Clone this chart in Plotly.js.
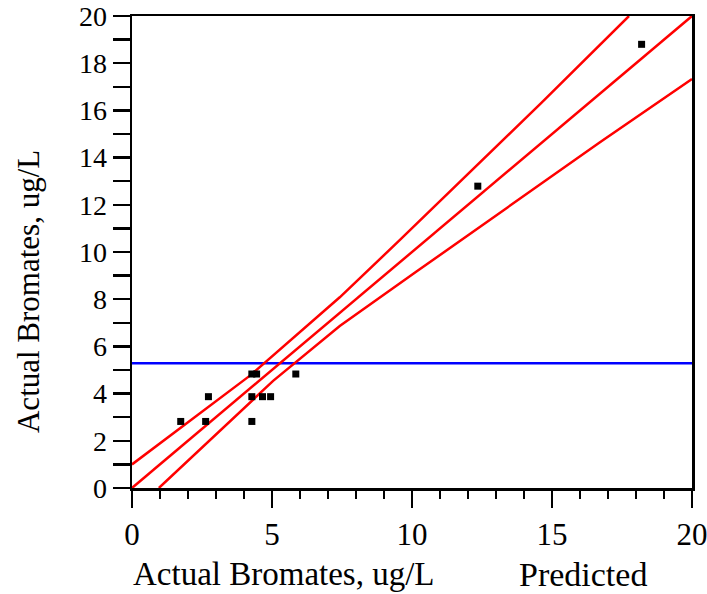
<!DOCTYPE html>
<html>
<head>
<meta charset="utf-8">
<script src="https://cdn.plot.ly/plotly-3.0.1.min.js"></script>
<style>html,body{margin:0;padding:0;background:#fff;}#chart{width:707px;height:594px;}</style>
</head>
<body>
<div id="chart"></div>
<script>
// Observed points (predicted vs actual)
const pointsX = [1.74, 2.63, 2.73, 4.28, 4.28, 4.28, 4.45, 4.66, 4.95, 5.85, 12.35, 18.2];
const pointsY = [2.82, 2.82, 3.87, 2.82, 3.87, 4.83, 4.83, 3.87, 3.87, 4.83, 12.79, 18.8];

// Fit line
const fitX = [0, 20];
const fitY = [0, 20];

// Upper confidence curve
const upperX = [0, 4.2, 7.42, 9.56, 14.62, 17.75];
const upperY = [1.0, 4.75, 8.08, 10.5, 16.32, 20];

// Lower confidence curve
const lowerX = [0.96, 5.04, 7.42, 10.16, 16.7, 20];
const lowerY = [0, 4.54, 6.86, 9.17, 14.64, 17.33];

// Horizontal mean line
const meanX = [0, 20];
const meanY = [5.29, 5.29];

// Tick labels
const xTickVals = [0, 5, 10, 15, 20];
const xTickText = ['0', '5', '10', '15', '20'];
const yTickVals = [0,1,2,3,4,5,6,7,8,9,10,11,12,13,14,15,16,17,18,19,20];
const yTickText = ['0','','2','','4','','6','','8','','10','','12','','14','','16','','18','','20'];

const xTitle = 'Actual Bromates, ug/L';
const xTitle2 = 'Predicted';
const yTitle = 'Actual Bromates, ug/L';

const red = '#ff0000';
const traces = [
  {x: meanX, y: meanY, mode: 'lines', line: {color: '#0000ff', width: 2.5}, hoverinfo: 'skip'},
  {x: upperX, y: upperY, mode: 'lines', line: {color: red, width: 2.5}},
  {x: fitX, y: fitY, mode: 'lines', line: {color: red, width: 2.5}},
  {x: lowerX, y: lowerY, mode: 'lines', line: {color: red, width: 2.5}},
  {x: pointsX, y: pointsY, mode: 'markers', marker: {symbol: 'square', size: 7, color: '#000'}}
];

const font = {family: 'Liberation Serif, Times New Roman, serif', color: '#000'};
const layout = {
  width: 707, height: 594,
  margin: {l: 132, r: 15, t: 16, b: 106},
  paper_bgcolor: '#fff', plot_bgcolor: '#fff',
  showlegend: false,
  font: font,
  xaxis: {
    range: [0, 20], showgrid: false, zeroline: false,
    showline: true, linecolor: '#000', linewidth: 2.5, mirror: true,
    ticks: 'outside', ticklen: 17, tickwidth: 2.5, tickcolor: '#000',
    tickmode: 'array', tickvals: xTickVals, ticktext: xTickText,
    ticklabeloverflow: 'allow',
    tickfont: {family: font.family, size: 31, color: '#000'},
    minor: {dtick: 1, ticks: 'outside', ticklen: 8, tickwidth: 2.5, tickcolor: '#000', showgrid: false}
  },
  yaxis: {
    range: [0, 20], showgrid: false, zeroline: false,
    showline: true, linecolor: '#000', linewidth: 2.5, mirror: true,
    ticks: 'outside', ticklen: 17, tickwidth: 2.5, tickcolor: '#000',
    tickmode: 'array', tickvals: yTickVals, ticktext: yTickText,
    ticklabeloverflow: 'allow',
    tickfont: {family: font.family, size: 28, color: '#000'}
  },
  annotations: [
    {text: xTitle, xref: 'paper', yref: 'paper', x: 0.271, y: -0.183, xanchor: 'center', yanchor: 'middle', showarrow: false, font: {family: font.family, size: 33, color: '#000'}},
    {text: xTitle2, xref: 'paper', yref: 'paper', x: 0.806, y: -0.183, xanchor: 'center', yanchor: 'middle', showarrow: false, font: {family: font.family, size: 34, color: '#000'}},
    {text: yTitle, xref: 'paper', yref: 'paper', x: -0.186, y: 0.417, xanchor: 'center', yanchor: 'middle', textangle: -90, showarrow: false, font: {family: font.family, size: 31, color: '#000'}}
  ]
};

Plotly.newPlot('chart', traces, layout, {displayModeBar: false, staticPlot: true});
</script>
</body>
</html>
